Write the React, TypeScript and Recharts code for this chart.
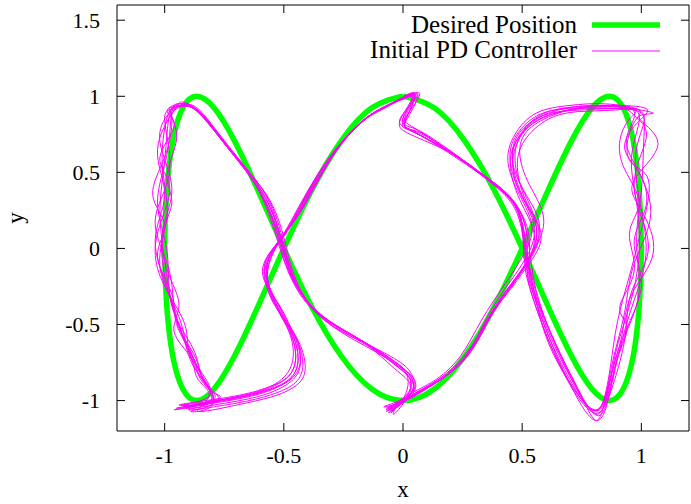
import { ScatterChart, Scatter, XAxis, YAxis, ReferenceArea, ReferenceLine, Legend } from 'recharts';

const FONT = '"Liberation Serif", "Times New Roman", serif';

const X_TICKS = [-1, -0.5, 0, 0.5, 1];
const Y_TICKS = [-1, -0.5, 0, 0.5, 1, 1.5];
const X_DOMAIN: [number, number] = [-1.2, 1.2];
const Y_DOMAIN: [number, number] = [-1.2, 1.6];

// desired trajectory
const DESIRED_X = [
  0, 0.131, 0.259, 0.383, 0.5, 0.609, 0.707, 0.793, 0.866, 0.924, 0.966, 0.991, 1, 0.991, 0.966, 0.924, 0.866,
  0.793, 0.707, 0.609, 0.5, 0.383, 0.259, 0.131, 0, -0.131, -0.259, -0.383, -0.5, -0.609, -0.707, -0.793, -0.866,
  -0.924, -0.966, -0.991, -1, -0.991, -0.966, -0.924, -0.866, -0.793, -0.707, -0.609, -0.5, -0.383, -0.259, -0.131, 0,
];
const DESIRED_Y = [
  1, 0.924, 0.707, 0.383, 0, -0.383, -0.707, -0.924, -1, -0.924, -0.707, -0.383, 0, 0.383, 0.707, 0.924, 1, 0.924,
  0.707, 0.383, 0, -0.383, -0.707, -0.924, -1, -0.924, -0.707, -0.383, 0, 0.383, 0.707, 0.924, 1, 0.924, 0.707, 0.383,
  0, -0.383, -0.707, -0.924, -1, -0.924, -0.707, -0.383, 0, 0.383, 0.707, 0.924, 1,
];

// PD controller laps (x, y)
const LAP_1 = [
  [0.0, 1.0], [0.05, 1.01], [0.0, 0.86], [0.04, 0.77], [0.19, 0.64], [0.34, 0.48], [0.46, 0.31], [0.51, 0.1],
  [0.53, -0.12], [0.56, -0.33], [0.63, -0.62], [0.72, -0.9], [0.79, -1.06], [0.85, -1.0], [0.89, -0.7], [0.95, -0.38],
  [0.99, -0.05], [0.98, 0.3], [0.96, 0.62], [0.99, 0.88], [0.88, 0.93], [0.73, 0.92], [0.59, 0.86], [0.49, 0.74],
  [0.46, 0.57], [0.51, 0.36], [0.56, 0.14], [0.53, -0.06], [0.45, -0.25], [0.36, -0.45], [0.27, -0.7], [0.15, -0.87],
  [0.03, -0.98], [-0.06, -1.06], [0.01, -0.98], [0.03, -0.86], [-0.03, -0.76], [-0.18, -0.6], [-0.36, -0.42],
  [-0.47, -0.18], [-0.52, 0.08], [-0.6, 0.38], [-0.73, 0.66], [-0.86, 0.9], [-0.94, 0.94], [-0.98, 0.88],
  [-1.0, 0.58], [-1.02, 0.25], [-1.0, -0.08], [-0.96, -0.42], [-0.89, -0.68], [-0.83, -0.88], [-0.81, -1.0],
  [-0.92, -1.04], [-0.73, -0.99], [-0.57, -0.93], [-0.47, -0.85], [-0.44, -0.72], [-0.46, -0.58], [-0.5, -0.46],
  [-0.55, -0.3], [-0.57, -0.1], [-0.51, 0.07], [-0.43, 0.25], [-0.3, 0.6], [-0.16, 0.85], [-0.05, 0.95], [0.05, 1.01],
];
const LAP_2 = [
  [0.01, 0.84], [0.05, 0.76], [0.2, 0.63], [0.35, 0.46], [0.47, 0.29], [0.52, 0.08], [0.52, -0.14], [0.55, -0.35],
  [0.62, -0.64], [0.71, -0.92], [0.8, -1.08], [0.86, -0.98], [0.91, -0.66], [0.97, -0.34], [1.02, -0.02], [0.99, 0.34],
  [0.98, 0.66], [1.01, 0.87], [0.9, 0.92], [0.75, 0.91], [0.6, 0.88], [0.5, 0.76], [0.47, 0.6], [0.5, 0.4],
  [0.57, 0.18], [0.54, -0.04], [0.46, -0.22], [0.37, -0.43], [0.28, -0.68], [0.16, -0.86], [0.04, -0.97],
  [-0.07, -1.05], [0.02, -0.97], [0.04, -0.88], [-0.02, -0.78], [-0.17, -0.62], [-0.35, -0.44], [-0.46, -0.2],
  [-0.51, 0.05], [-0.58, 0.36], [-0.72, 0.64], [-0.85, 0.89], [-0.93, 0.95], [-0.97, 0.9], [-0.99, 0.62],
  [-1.03, 0.3], [-0.99, -0.02], [-0.97, -0.38], [-0.88, -0.66], [-0.84, -0.85], [-0.8, -1.02], [-0.9, -1.06],
  [-0.72, -1.01], [-0.56, -0.95], [-0.46, -0.86], [-0.43, -0.74], [-0.45, -0.6], [-0.49, -0.48], [-0.54, -0.32],
  [-0.58, -0.12], [-0.52, 0.05], [-0.45, 0.22], [-0.32, 0.57], [-0.17, 0.84], [-0.06, 0.94], [0.06, 1.02],
];
const LAP_3 = [
  [0.02, 0.86], [0.03, 0.78], [0.17, 0.66], [0.32, 0.5], [0.45, 0.33], [0.5, 0.12], [0.51, -0.1], [0.54, -0.3],
  [0.61, -0.6], [0.7, -0.88], [0.78, -1.04], [0.84, -1.02], [0.88, -0.74], [0.93, -0.42], [0.97, -0.1], [1.04, 0.24],
  [0.97, 0.56], [0.94, 0.74], [0.97, 0.9], [0.86, 0.94], [0.71, 0.93], [0.57, 0.87], [0.48, 0.72], [0.45, 0.55],
  [0.49, 0.32], [0.55, 0.1], [0.52, -0.09], [0.44, -0.28], [0.35, -0.48], [0.26, -0.72], [0.14, -0.88], [0.02, -0.99],
  [-0.05, -1.08], [0.0, -0.99], [0.02, -0.85], [-0.04, -0.74], [-0.2, -0.58], [-0.37, -0.4], [-0.48, -0.15],
  [-0.53, 0.1], [-0.61, 0.4], [-0.74, 0.67], [-0.87, 0.91], [-0.95, 0.93], [-0.99, 0.86], [-1.01, 0.55],
  [-0.99, 0.22], [-1.02, -0.12], [-0.94, -0.45], [-0.9, -0.7], [-0.82, -0.9], [-0.79, -1.01], [-0.94, -1.03],
  [-0.74, -0.98], [-0.58, -0.92], [-0.48, -0.84], [-0.45, -0.7], [-0.47, -0.56], [-0.51, -0.44], [-0.56, -0.28],
  [-0.56, -0.08], [-0.5, 0.09], [-0.42, 0.27], [-0.29, 0.62], [-0.15, 0.86], [-0.04, 0.96], [0.04, 1.0],
];
const LAP_4 = [
  [-0.01, 0.85], [0.03, 0.75], [0.21, 0.62], [0.36, 0.45], [0.48, 0.27], [0.53, 0.06], [0.53, -0.16], [0.57, -0.37],
  [0.65, -0.67], [0.74, -0.95], [0.81, -1.09], [0.86, -0.96], [0.92, -0.62], [0.99, -0.3], [0.98, 0.04], [1.0, 0.38],
  [1.01, 0.7], [1.0, 0.9], [0.89, 0.91], [0.74, 0.9], [0.61, 0.85], [0.51, 0.71], [0.48, 0.53], [0.52, 0.3],
  [0.58, 0.08], [0.52, -0.12], [0.44, -0.29], [0.34, -0.5], [0.25, -0.74], [0.13, -0.89], [0.01, -1.0],
  [-0.08, -1.04], [0.03, -0.96], [0.04, -0.84], [-0.01, -0.75], [-0.15, -0.63], [-0.34, -0.46], [-0.45, -0.22],
  [-0.5, 0.03], [-0.57, 0.34], [-0.71, 0.62], [-0.84, 0.88], [-0.92, 0.96], [-0.96, 0.91], [-1.03, 0.65],
  [-1.0, 0.35], [-1.04, 0.05], [-0.98, -0.3], [-0.92, -0.6], [-0.85, -0.82], [-0.8, -1.03], [-0.89, -1.07],
  [-0.71, -1.02], [-0.55, -0.96], [-0.45, -0.88], [-0.42, -0.76], [-0.44, -0.62], [-0.48, -0.5], [-0.53, -0.35],
  [-0.59, -0.15], [-0.53, 0.03], [-0.46, 0.2], [-0.33, 0.55], [-0.18, 0.82], [-0.07, 0.93], [0.07, 1.02],
];
const LAP_5 = [
  [0.0, 0.83], [0.06, 0.77], [0.18, 0.65], [0.33, 0.49], [0.46, 0.32], [0.5, 0.14], [0.52, -0.08], [0.55, -0.28],
  [0.6, -0.58], [0.69, -0.86], [0.77, -1.03], [0.83, -1.04], [0.87, -0.78], [0.9, -0.48], [0.95, -0.18], [1.0, 0.12],
  [1.03, 0.45], [0.95, 0.58], [0.96, 0.8], [0.99, 0.91], [0.85, 0.95], [0.7, 0.94], [0.56, 0.89], [0.47, 0.75],
  [0.44, 0.58], [0.48, 0.38], [0.54, 0.16], [0.51, -0.03], [0.43, -0.23], [0.33, -0.47], [0.24, -0.71], [0.12, -0.88],
  [0.0, -0.99], [-0.04, -1.09], [0.01, -1.0], [0.03, -0.89], [-0.05, -0.77], [-0.19, -0.59], [-0.38, -0.4],
  [-0.49, -0.12], [-0.54, 0.12], [-0.62, 0.42], [-0.75, 0.69], [-0.88, 0.92], [-0.96, 0.92], [-1.0, 0.84],
  [-0.98, 0.5], [-1.04, 0.18], [-0.98, -0.15], [-0.95, -0.48], [-0.87, -0.72], [-0.82, -0.92], [-0.78, -0.99],
  [-0.95, -1.05], [-0.75, -0.99], [-0.59, -0.93], [-0.49, -0.83], [-0.46, -0.68], [-0.48, -0.54], [-0.52, -0.42],
  [-0.57, -0.25], [-0.55, -0.05], [-0.49, 0.11], [-0.41, 0.29], [-0.28, 0.64], [-0.14, 0.87], [-0.03, 0.97], [0.05, 1.01],
];
const LAP_6 = [
  [0.01, 0.87], [0.05, 0.79], [0.22, 0.61], [0.37, 0.44], [0.48, 0.26], [0.51, 0.03], [0.54, -0.18], [0.58, -0.4],
  [0.66, -0.69], [0.75, -0.97], [0.82, -1.1], [0.87, -0.95], [0.93, -0.6], [0.96, -0.28], [1.03, 0.02], [0.97, 0.4],
  [1.02, 0.72], [0.98, 0.86], [0.91, 0.93], [0.76, 0.93], [0.62, 0.87], [0.52, 0.77], [0.49, 0.62], [0.53, 0.42],
  [0.59, 0.2], [0.55, -0.01], [0.47, -0.2], [0.38, -0.41], [0.29, -0.66], [0.17, -0.85], [0.05, -0.96],
  [-0.07, -1.07], [0.02, -0.99], [0.05, -0.87], [-0.02, -0.77], [-0.16, -0.64], [-0.33, -0.47], [-0.44, -0.24],
  [-0.49, 0.01], [-0.56, 0.32], [-0.7, 0.6], [-0.83, 0.87], [-0.91, 0.95], [-0.98, 0.89], [-1.02, 0.7],
  [-0.97, 0.4], [-1.01, 0.1], [-0.99, -0.25], [-0.93, -0.55], [-0.86, -0.78], [-0.81, -0.96], [-0.86, -1.07],
  [-0.7, -1.03], [-0.54, -0.97], [-0.44, -0.89], [-0.41, -0.78], [-0.43, -0.64], [-0.47, -0.52], [-0.52, -0.37],
  [-0.58, -0.18], [-0.54, 0.0], [-0.47, 0.18], [-0.34, 0.53], [-0.19, 0.81], [-0.08, 0.92], [0.04, 1.0],
];
const LAP_7 = [
  [0.0, 0.85], [0.06, 0.78], [0.2, 0.64], [0.35, 0.47], [0.47, 0.3], [0.52, 0.1], [0.54, -0.12], [0.57, -0.34],
  [0.64, -0.63], [0.73, -0.91], [0.8, -1.12], [0.84, -1.05], [0.88, -0.8], [0.92, -0.56], [0.96, -0.3], [1.05, -0.03],
  [1.0, 0.25], [0.97, 0.45], [1.07, 0.69], [0.99, 0.86], [1.05, 0.89], [0.9, 0.93], [0.75, 0.92], [0.6, 0.87],
  [0.5, 0.75], [0.46, 0.56], [0.5, 0.34], [0.57, 0.12], [0.53, -0.08], [0.45, -0.26], [0.36, -0.47], [0.26, -0.7],
  [0.14, -0.87], [0.02, -0.98], [-0.06, -1.08], [0.02, -0.98], [0.04, -0.86], [-0.03, -0.75], [-0.18, -0.6],
  [-0.36, -0.42], [-0.47, -0.17], [-0.52, 0.07], [-0.6, 0.37], [-0.73, 0.65], [-0.86, 0.9], [-0.93, 0.94],
  [-0.98, 0.92], [-0.97, 0.84], [-1.0, 0.6], [-1.05, 0.35], [-1.0, 0.15], [-1.03, -0.05], [-0.97, -0.3],
  [-0.95, -0.5], [-0.88, -0.72], [-0.84, -0.88], [-0.8, -1.0], [-0.96, -1.06], [-0.75, -1.0], [-0.58, -0.94],
  [-0.47, -0.86], [-0.43, -0.73], [-0.45, -0.58], [-0.5, -0.46], [-0.56, -0.3], [-0.58, -0.1], [-0.51, 0.06],
  [-0.44, 0.24], [-0.31, 0.59], [-0.16, 0.85], [-0.05, 0.95], [0.06, 1.01],
];
const LAP_8 = [
  [-0.01, 0.86], [0.04, 0.77], [0.19, 0.63], [0.34, 0.47], [0.46, 0.3], [0.51, 0.08], [0.52, -0.14], [0.56, -0.36],
  [0.63, -0.65], [0.71, -0.92], [0.77, -1.08], [0.82, -1.13], [0.86, -1.0], [0.9, -0.72], [0.94, -0.52], [0.91, -0.38],
  [0.97, -0.15], [0.95, 0.1], [0.99, 0.3], [0.93, 0.52], [0.91, 0.71], [0.95, 0.85], [0.97, 0.91], [0.84, 0.92],
  [0.69, 0.92], [0.56, 0.87], [0.47, 0.73], [0.45, 0.57], [0.49, 0.37], [0.55, 0.15], [0.52, -0.05], [0.44, -0.24],
  [0.35, -0.46], [0.27, -0.69], [0.15, -0.86], [0.03, -0.97], [-0.07, -1.06], [0.01, -0.97], [0.03, -0.86],
  [-0.03, -0.77], [-0.17, -0.61], [-0.35, -0.43], [-0.46, -0.19], [-0.51, 0.06], [-0.59, 0.37], [-0.72, 0.65],
  [-0.85, 0.89], [-0.93, 0.93], [-0.97, 0.87], [-0.95, 0.72], [-0.99, 0.48], [-0.97, 0.3], [-1.01, 0.08],
  [-0.98, -0.18], [-0.94, -0.38], [-0.96, -0.55], [-0.89, -0.72], [-0.86, -0.86], [-0.82, -0.98], [-0.93, -1.03],
  [-0.74, -0.99], [-0.58, -0.93], [-0.48, -0.84], [-0.45, -0.71], [-0.47, -0.57], [-0.51, -0.45], [-0.55, -0.31],
  [-0.57, -0.11], [-0.51, 0.06], [-0.44, 0.24], [-0.3, 0.6], [-0.16, 0.85], [-0.05, 0.95], [0.05, 1.01],
];
const LAP_9 = [
  [0.01, 0.84], [0.05, 0.77], [0.19, 0.65], [0.33, 0.48], [0.45, 0.31], [0.5, 0.11], [0.52, -0.1], [0.55, -0.31],
  [0.62, -0.61], [0.71, -0.89], [0.78, -1.05], [0.84, -1.01], [0.89, -0.73], [0.96, -0.45], [1.0, -0.2], [0.97, 0.05],
  [1.02, 0.28], [0.99, 0.5], [0.93, 0.66], [0.98, 0.82], [1.02, 0.92], [0.87, 0.94], [0.72, 0.93], [0.58, 0.87],
  [0.48, 0.74], [0.46, 0.56], [0.5, 0.35], [0.56, 0.13], [0.53, -0.07], [0.45, -0.25], [0.37, -0.44], [0.28, -0.69],
  [0.16, -0.86], [0.04, -0.97], [-0.05, -1.07], [0.02, -0.98], [0.04, -0.87], [-0.02, -0.76], [-0.17, -0.61],
  [-0.35, -0.43], [-0.46, -0.19], [-0.51, 0.06], [-0.59, 0.37], [-0.73, 0.66], [-0.86, 0.9], [-0.94, 0.95],
  [-0.99, 0.9], [-0.96, 0.8], [-1.02, 0.6], [-0.98, 0.42], [-1.01, 0.2], [-1.04, -0.02], [-1.0, -0.25],
  [-0.92, -0.48], [-0.9, -0.66], [-0.85, -0.84], [-0.81, -1.01], [-0.91, -1.05], [-0.73, -1.0], [-0.57, -0.94],
  [-0.47, -0.85], [-0.44, -0.72], [-0.46, -0.58], [-0.5, -0.46], [-0.55, -0.3], [-0.57, -0.1], [-0.51, 0.07],
  [-0.43, 0.25], [-0.3, 0.6], [-0.16, 0.85], [-0.05, 0.95], [0.05, 1.01],
];

const desired = DESIRED_X.map((x, i) => ({ x, y: DESIRED_Y[i] }));
const pd = [...LAP_1, ...LAP_2, ...LAP_3, ...LAP_4, ...LAP_5, ...LAP_6, ...LAP_7, ...LAP_8, ...LAP_9].map(
  ([x, y]) => ({ x, y }),
);

const GREEN = '#00ff00';
const MAGENTA = '#ff00ff';
const WIDTHS: Record<string, number> = { 'Desired Position': 5.5, 'Initial PD Controller': 1 };

// tick mark lengths in data units (~8px inward)
const XT = 8 / 152;
const YT = 8 / 238;

const NoDot = () => <g />;

function PlotLegend({ payload }: { payload?: any[] }) {
  const items = payload ?? [];
  return (
    <svg width={691} height={70} style={{ display: 'block' }}>
      {items.map((p, i) => (
        <g key={p.value}>
          <text x={577} y={33 + i * 25} textAnchor="end" fontFamily={FONT} fontSize={25} fill="#000">
            {p.value}
          </text>
          <line x1={592} x2={660} y1={25 + i * 26} y2={25 + i * 26} stroke={p.color} strokeWidth={WIDTHS[p.value] ?? 1} />
        </g>
      ))}
    </svg>
  );
}

function YLabel(props: any) {
  const vb = props.viewBox;
  const cx = 15;
  const cy = vb.y + vb.height / 2;
  return (
    <text x={cx} y={cy} transform={`rotate(-90, ${cx}, ${cy})`} textAnchor="middle" dominantBaseline="central" fontFamily={FONT} fontSize={23} fill="#000">
      y
    </text>
  );
}

export default function App() {
  const tick = { fill: '#000', fontSize: 22, fontFamily: FONT };
  return (
    <div style={{ position: 'absolute', left: 0, top: 0, background: '#fff' }}>
      <ScatterChart width={691} height={504} margin={{ top: 5, right: 2, bottom: 0, left: 0 }}>
        <XAxis
          type="number"
          dataKey="x"
          domain={X_DOMAIN}
          ticks={X_TICKS}
          allowDataOverflow
          height={73}
          axisLine={false}
          tickLine={false}
          tickSize={0}
          tickMargin={16}
          tick={tick}
          label={{ value: 'x', position: 'insideBottom', offset: 7, style: { fill: '#000', fontSize: 23, fontFamily: FONT } }}
        />
        <YAxis
          type="number"
          dataKey="y"
          domain={Y_DOMAIN}
          ticks={Y_TICKS}
          allowDataOverflow
          width={117}
          axisLine={false}
          tickLine={false}
          tickSize={0}
          tickMargin={17}
          tick={tick}
          label={<YLabel />}
        />
        <ReferenceArea x1={X_DOMAIN[0]} x2={X_DOMAIN[1]} y1={Y_DOMAIN[0]} y2={Y_DOMAIN[1]} fill="none" stroke="#000" strokeWidth={1} fillOpacity={0} />
        {X_TICKS.map((v) => (
          <ReferenceLine key={`xb${v}`} segment={[{ x: v, y: Y_DOMAIN[0] }, { x: v, y: Y_DOMAIN[0] + XT }]} stroke="#000" />
        ))}
        {X_TICKS.map((v) => (
          <ReferenceLine key={`xt${v}`} segment={[{ x: v, y: Y_DOMAIN[1] }, { x: v, y: Y_DOMAIN[1] - XT }]} stroke="#000" />
        ))}
        {Y_TICKS.map((v) => (
          <ReferenceLine key={`yl${v}`} segment={[{ x: X_DOMAIN[0], y: v }, { x: X_DOMAIN[0] + YT, y: v }]} stroke="#000" />
        ))}
        {Y_TICKS.map((v) => (
          <ReferenceLine key={`yr${v}`} segment={[{ x: X_DOMAIN[1], y: v }, { x: X_DOMAIN[1] - YT, y: v }]} stroke="#000" />
        ))}
        <Legend
          verticalAlign="middle"
          align="center"
          wrapperStyle={{ top: 0, left: 0, width: 691, height: 70 }}
          content={(props: any) => <PlotLegend payload={props.payload} />}
        />
        <Scatter
          data={desired}
          name="Desired Position"
          fill={GREEN}
          line={{ stroke: GREEN, strokeWidth: 5.5 }}
          lineJointType="natural"
          shape={NoDot}
          isAnimationActive={false}
        />
        <Scatter
          data={pd}
          name="Initial PD Controller"
          fill={MAGENTA}
          line={{ stroke: MAGENTA, strokeWidth: 1 }}
          lineJointType="natural"
          shape={NoDot}
          isAnimationActive={false}
        />
      </ScatterChart>
    </div>
  );
}
